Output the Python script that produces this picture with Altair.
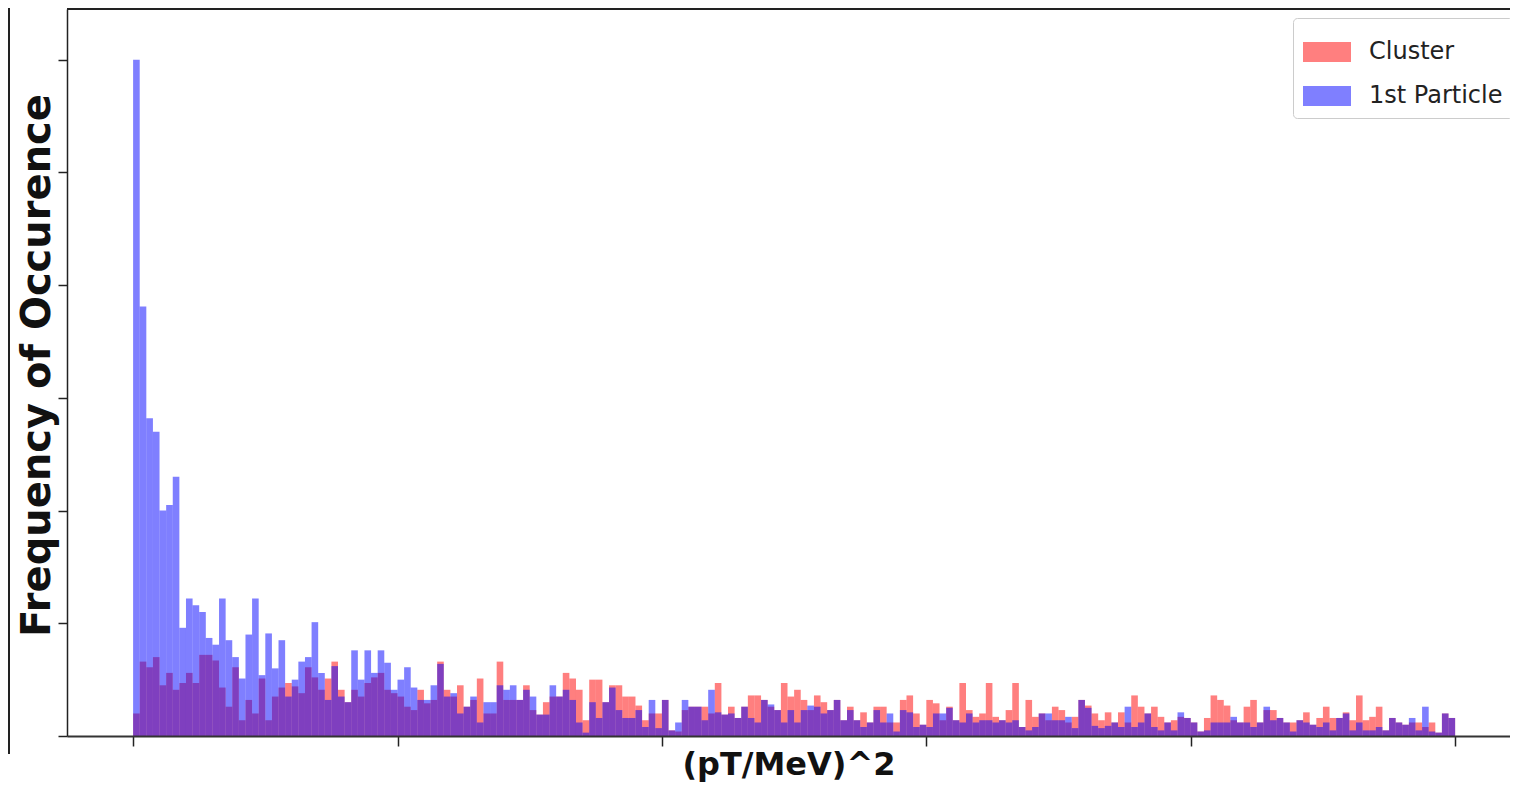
import altair as alt
import pandas as pd

# histogram counts per bin (200 equal-width bins)
cluster = [
    20, 66, 61, 70, 45, 56, 41, 47, 56, 47,
    72, 72, 67, 43, 26, 61, 14, 32, 20, 51,
    14, 35, 43, 47, 44, 38, 61, 52, 41, 51,
    66, 41, 30, 41, 35, 47, 52, 56, 41, 38,
    35, 26, 23, 41, 29, 32, 66, 41, 35, 45,
    26, 32, 51, 20, 20, 66, 32, 32, 32, 45,
    23, 19, 30, 35, 35, 56, 51, 41, 14, 50,
    50, 30, 45, 45, 35, 35, 27, 14, 20, 20,
    32, 5, 4, 23, 26, 26, 26, 20, 47, 19,
    26, 16, 26, 36, 36, 32, 26, 23, 47, 35,
    41, 32, 23, 36, 30, 23, 32, 14, 26, 14,
    21, 12, 26, 26, 12, 12, 32, 36, 20, 10,
    32, 29, 14, 26, 14, 47, 23, 17, 20, 47,
    17, 14, 23, 47, 8, 32, 17, 20, 14, 26,
    23, 12, 17, 32, 27, 20, 14, 21, 12, 21,
    12, 36, 26, 20, 26, 17, 12, 14, 17, 16,
    12, 4, 16, 36, 32, 27, 14, 12, 26, 32,
    12, 23, 23, 16, 12, 12, 14, 21, 10, 16,
    26, 16, 16, 21, 14, 36, 14, 17, 26, 5,
    16, 12, 10, 12, 12, 8, 12, 3, 20, 16,
]

first_particle = [
    600, 381, 282, 270, 200, 205, 230, 96, 122, 116,
    110, 87, 81, 122, 85, 70, 51, 90, 122, 54,
    91, 60, 85, 35, 50, 66, 70, 101, 56, 32,
    62, 35, 30, 76, 50, 76, 56, 76, 65, 41,
    50, 61, 43, 32, 32, 45, 64, 35, 38, 20,
    26, 35, 12, 30, 30, 45, 41, 45, 32, 41,
    35, 19, 19, 45, 35, 41, 32, 12, 3, 30,
    16, 30, 43, 23, 16, 16, 23, 8, 32, 7,
    32, 5, 12, 32, 26, 26, 14, 41, 21, 19,
    20, 16, 26, 16, 12, 32, 28, 23, 12, 23,
    12, 23, 27, 26, 20, 23, 32, 14, 23, 14,
    8, 12, 23, 12, 20, 4, 23, 21, 8, 10,
    8, 20, 20, 25, 14, 12, 20, 12, 14, 14,
    12, 14, 12, 14, 8, 5, 8, 20, 20, 14,
    14, 17, 7, 32, 25, 9, 7, 9, 12, 8,
    26, 8, 12, 20, 8, 5, 12, 5, 21, 16,
    12, 4, 5, 12, 12, 12, 17, 12, 12, 8,
    12, 26, 14, 16, 12, 4, 14, 12, 10, 8,
    12, 5, 16, 20, 5, 12, 5, 5, 8, 5,
    16, 12, 10, 16, 5, 26, 4, 3, 20, 16,
]

series_names = ["Cluster", "1st Particle"]
series_colors = ["red", "blue"]
x_ticks = [0, 40, 80, 120, 160, 200]
y_ticks = [0, 100, 200, 300, 400, 500, 600]

rows = []
for name, vals in zip(series_names, [cluster, first_particle]):
    for i, v in enumerate(vals):
        rows.append({"series": name, "lo": i, "hi": i + 1, "count": v})
df = pd.DataFrame(rows)

W, H = 1443, 727

xscale = alt.Scale(domain=[-10, 208.3], nice=False, zero=False)
yscale = alt.Scale(domain=[0, 645], nice=False, zero=True)

x_axis = alt.Axis(
    values=x_ticks, labels=False, grid=False, tickSize=10, tickWidth=1.5,
    tickColor="#222", domainColor="#333", domainWidth=2, zindex=1,
    title="(pT/MeV)^2", titleFont="DejaVu Sans", titleFontSize=32,
    titleFontWeight="bold", titleColor="#111", titleY=38,
    titleBaseline="alphabetic",
)
y_axis = alt.Axis(
    values=y_ticks, labels=False, grid=False, tickSize=9, tickWidth=1.5,
    tickColor="#222", domainColor="#222", domainWidth=1.5, zindex=1,
    title="Frequency of Occurence", titleFont="DejaVu Sans", titleFontSize=40,
    titleFontWeight="bold", titleColor="#111", titleX=-18, titleY=356,
    titleAngle=-90, titleAlign="center", titleBaseline="alphabetic",
)

color = alt.Color(
    "series:N",
    scale=alt.Scale(domain=series_names, range=series_colors),
    legend=alt.Legend(
        title=None, orient="none", legendX=1226, legendY=9,
        symbolType="M-1,-0.42H1V0.42H-1Z", symbolSize=2304,
        symbolOpacity=0.5, symbolStrokeWidth=0,
        labelFont="DejaVu Sans", labelFontSize=24, labelColor="#222",
        labelOffset=18, padding=10, rowPadding=8,
        strokeColor="#ccc", fillColor="white", cornerRadius=4,
    ),
)

def bars(name):
    return (
        alt.Chart(df)
        .transform_filter(alt.datum.series == name)
        .mark_rect(opacity=0.5)
        .encode(
            x=alt.X("lo:Q", scale=xscale, axis=x_axis),
            x2="hi:Q",
            y=alt.Y("count:Q", scale=yscale, axis=y_axis),
            y2=alt.datum(0),
            color=color,
        )
    )

one = pd.DataFrame({"k": [0]})
top_spine = alt.Chart(one).mark_rule(color="#222", strokeWidth=2).encode(
    x=alt.value(0), x2=alt.value(W), y=alt.value(0)
)
edge_line = alt.Chart(one).mark_rule(color="#222", strokeWidth=2).encode(
    x=alt.value(-58), y=alt.value(-1), y2=alt.value(745)
)

chart = (
    alt.layer(bars("Cluster"), bars("1st Particle"), top_spine, edge_line)
    .properties(
        width=W, height=H,
        autosize=alt.AutoSizeParams(type="none"),
        padding={"left": 59, "top": 1, "right": 0, "bottom": 48},
    )
    .configure_view(stroke=None)
)

chart.save("out.html", embed_options={"renderer": "svg", "actions": False})
